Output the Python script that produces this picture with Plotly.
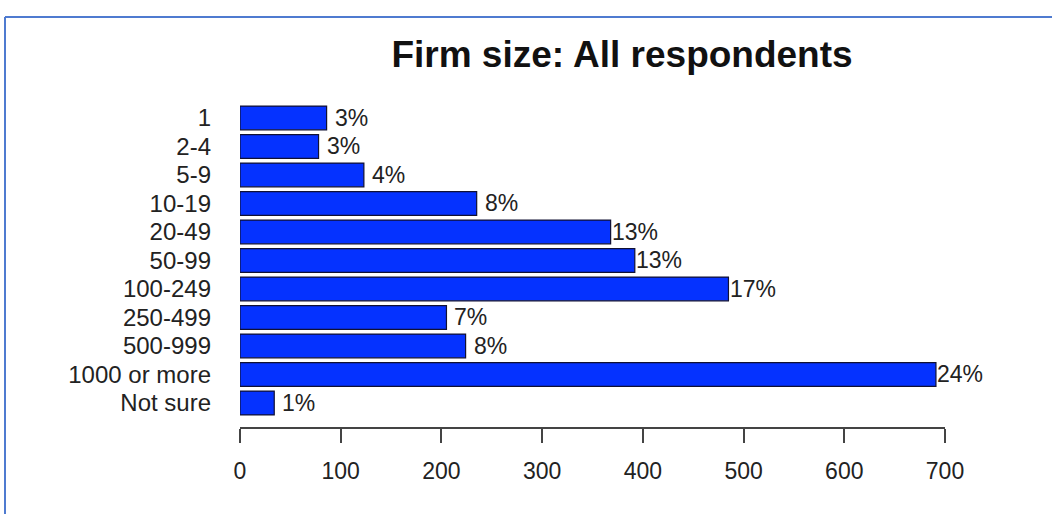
import plotly.graph_objects as go

# Firm size categories, top to bottom
categories = ["1", "2-4", "5-9", "10-19", "20-49", "50-99", "100-249",
              "250-499", "500-999", "1000 or more", "Not sure"]
# Number of respondents in each category
counts = [86, 78, 123, 235, 368, 392, 485, 205, 224, 691, 34]
x_ticks = [0, 100, 200, 300, 400, 500, 600, 700]

total = sum(counts)
percent_labels = [f"{round(100 * c / total)}%" for c in counts]
rows = list(range(len(categories)))

FONT = "Liberation Sans, Arial, sans-serif"
BAR_BLUE = "#0532FF"

fig = go.Figure()
fig.add_trace(go.Bar(
    x=counts,
    y=rows,
    orientation="h",
    width=1 / 1.2,
    marker=dict(color=BAR_BLUE, line=dict(color="#111133", width=1.2)),
    hoverinfo="skip",
    showlegend=False,
))

# Percentage labels centred just past the end of each bar
annotations = []
for r, c, lab in zip(rows, counts, percent_labels):
    annotations.append(dict(
        x=c, y=r, xref="x", yref="y", text=lab, showarrow=False,
        xanchor="center", yanchor="middle", xshift=24.5,
        font=dict(family=FONT, size=23, color="#222222"),
    ))

# Outer frame lines (top and left edges of the slide panel)
shapes = [
    dict(type="line", xref="paper", yref="paper",
         x0=(5 - 240) / 705, x1=(1052 - 240) / 705,
         y0=1 + (98 - 17) / 329, y1=1 + (98 - 17) / 329,
         line=dict(color="#4F7BD0", width=2)),
    dict(type="line", xref="paper", yref="paper",
         x0=(5 - 240) / 705, x1=(5 - 240) / 705,
         y0=1 + (98 - 17) / 329, y1=-(514 - 427) / 329,
         line=dict(color="#4F7BD0", width=2)),
]

fig.update_layout(
    width=1052, height=514, autosize=False,
    margin=dict(l=240, r=107, t=98, b=87),
    paper_bgcolor="white", plot_bgcolor="white",
    title=dict(
        text="<b>Firm size: All respondents</b>",
        x=(622 - 240) / 705, xref="paper", xanchor="center",
        y=1 - 54 / 514, yref="container", yanchor="middle",
        font=dict(family=FONT, size=37, color="#111111"),
    ),
    xaxis=dict(
        range=[0, 700], tickvals=x_ticks, showgrid=False, zeroline=False,
        showline=True, linecolor="#444444", linewidth=1.5,
        ticks="outside", ticklen=14, tickwidth=1.5, tickcolor="#444444",
        ticklabelstandoff=9,
        tickfont=dict(family=FONT, size=23, color="#222222"),
    ),
    yaxis=dict(
        tickvals=rows, ticktext=categories,
        range=[10.842, -0.7], showgrid=False, zeroline=False, showline=False,
        ticks="", ticklabelstandoff=28,
        tickfont=dict(family=FONT, size=24, color="#222222"),
    ),
    annotations=annotations,
    shapes=shapes,
)

fig.write_html("out.html")
